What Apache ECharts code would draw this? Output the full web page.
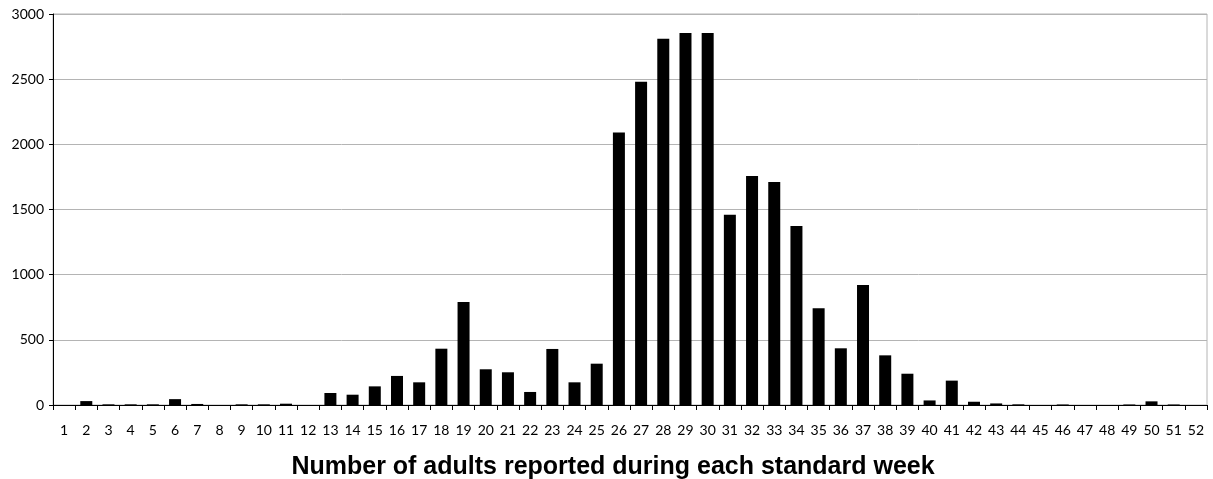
<!DOCTYPE html>
<html>
<head>
<meta charset="utf-8">
<script src="https://cdn.jsdelivr.net/npm/echarts@6/dist/echarts.min.js"></script>
<style>html,body{margin:0;padding:0;background:#fff;}#c{width:1213px;height:479px;}</style>
</head>
<body>
<div id="c"></div>
<script>
const weeks = ['1','2','3','4','5','6','7','8','9','10','11','12','13','14','15','16','17','18','19','20','21','22','23','24','25','26','27','28','29','30','31','32','33','34','35','36','37','38','39','40','41','42','43','44','45','46','47','48','49','50','51','52'];
const adults = [0,30,5,5,5,45,8,0,5,5,10,0,92,79,143,223,174,432,790,274,251,100,430,174,317,2090,2481,2811,2855,2855,1460,1757,1711,1374,742,435,921,381,240,35,187,25,12,5,0,4,0,0,4,28,4,0];
const yTicks = [0,500,1000,1500,2000,2500,3000];
const titleText = 'Number of adults reported during each standard week';

const chart = echarts.init(document.getElementById('c'));
chart.setOption({
  animation: false,
  backgroundColor: '#fff',
  title: {
    text: titleText,
    left: 608, top: 450, textAlign: 'center',
    textStyle: {fontFamily: 'Liberation Sans', fontWeight: 'bold', fontSize: 25, color: '#000'}
  },
  grid: {left: 53, right: 6, top: 14, bottom: 74, show: true, borderColor: '#b4b4b4', borderWidth: 1},
  xAxis: {
    type: 'category', data: weeks,
    axisLine: {lineStyle: {color: '#000', width: 1}},
    axisTick: {show: true, alignWithLabel: false, length: 5, lineStyle: {color: '#000'}},
    axisLabel: {interval: 0, color: '#000', fontFamily: 'Lato', fontSize: 14, margin: 18},
    splitLine: {show: false}
  },
  yAxis: {
    type: 'value', min: yTicks[0], max: yTicks[yTicks.length-1], interval: 500,
    axisLine: {show: true, lineStyle: {color: '#000', width: 1}},
    axisTick: {show: true, length: 4, lineStyle: {color: '#000'}},
    axisLabel: {color: '#000', fontFamily: 'Lato', fontSize: 14, margin: 9, formatter: v => String(v)},
    splitLine: {show: true, lineStyle: {color: '#b4b4b4', width: 1}}
  },
  series: [{
    type: 'bar', data: adults, barWidth: 12,
    itemStyle: {color: '#000'}
  }]
});
</script>
</body>
</html>
